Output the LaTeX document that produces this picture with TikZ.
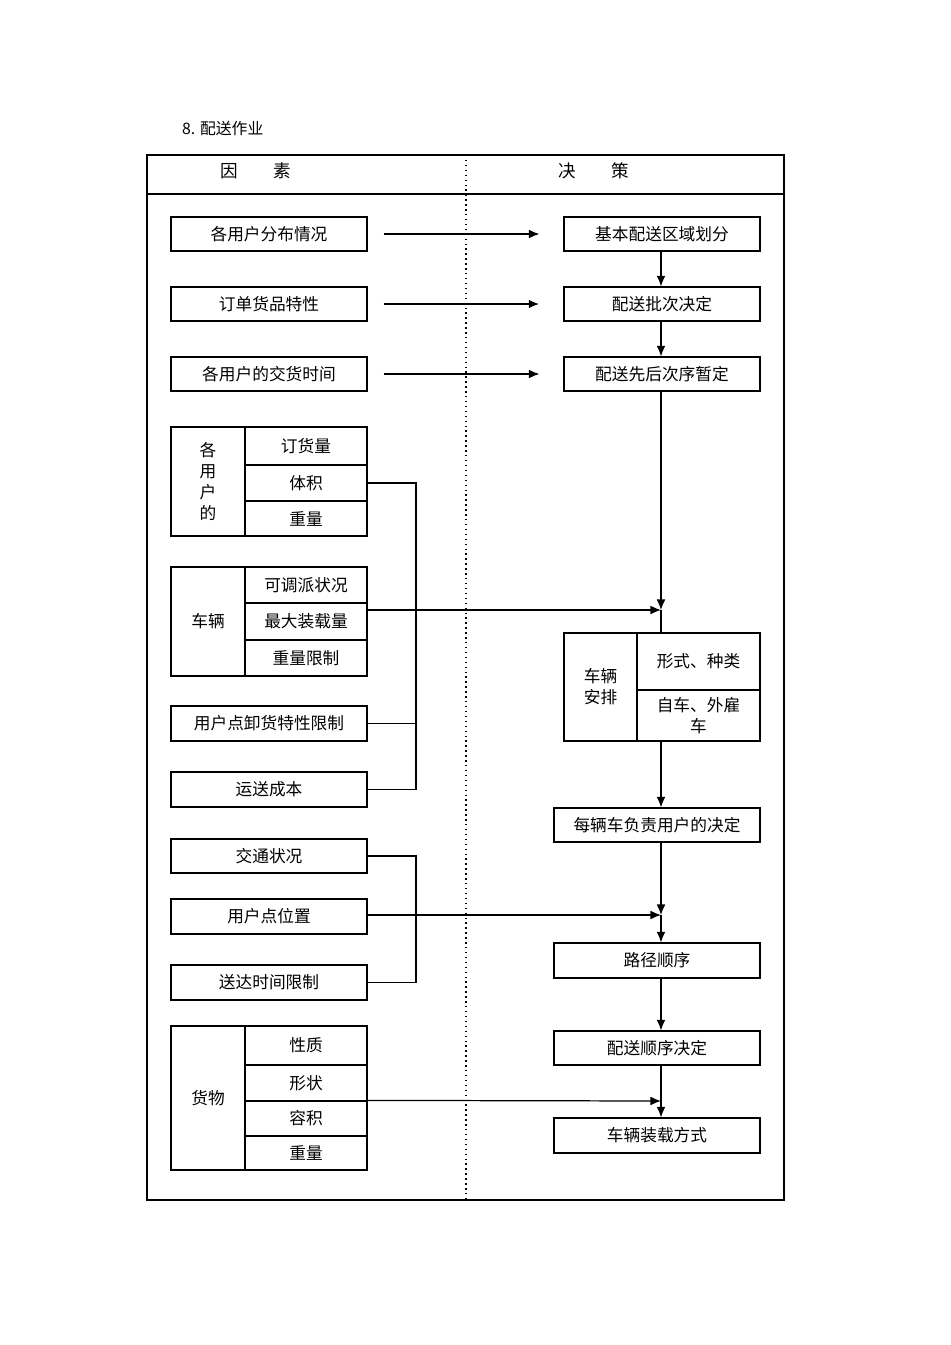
\documentclass[tikz,border=0pt]{standalone}
\usepackage{fontspec}
\setmainfont{Noto Sans CJK SC}
\usetikzlibrary{arrows.meta}
\tikzset{
  box/.style={draw, line width=0.7pt, inner sep=1pt, font=\fontsize{9.5pt}{12pt}\selectfont},
  cell/.style={box, minimum width=2.44cm, minimum height=#1*0.02cm},
  flow/.style={line width=0.7pt, -{Latex[length=6pt,width=5pt]}},
  link/.style={line width=0.6pt}
}
\begin{document}
\begin{tikzpicture}[x=0.02cm,y=-0.02cm]
  \useasboundingbox (0,0) rectangle (950,1345);
  % frame
  \node[anchor=west, font=\fontsize{9pt}{11pt}\selectfont] (title) at (176,128) {8. 配送作业};
  \draw[line width=0.7pt] (147,155) rectangle (784,1200);
  \draw[line width=1.2pt] (147,194) -- (784,194);
  \draw[dotted, line width=0.8pt] (466,155) -- (466,1200);
  \node[font=\fontsize{10pt}{12pt}\selectfont] (hfac) at (256,171) {因\hspace{2em}素};
  \node[font=\fontsize{10pt}{12pt}\selectfont] (hdec) at (594,171) {决\hspace{2em}策};

  % factors
  \node[box, minimum width=3.92cm, minimum height=0.68cm] (f1) at (269,234) {各用户分布情况};
  \node[box, minimum width=3.92cm, minimum height=0.68cm] (f2) at (269,304) {订单货品特性};
  \node[box, minimum width=3.92cm, minimum height=0.68cm] (f3) at (269,374) {各用户的交货时间};

  \node[box, minimum width=1.48cm, minimum height=2.18cm, align=center] (g1) at (208,481.5) {各\\用\\户\\的};
  \node[cell=38] (g1a) at (306,446) {订货量};
  \node[cell=36] (g1b) at (306,483) {体积};
  \node[cell=35] (g1c) at (306,518.5) {重量};

  \node[box, minimum width=1.48cm, minimum height=2.18cm] (g2) at (208,621.5) {车辆};
  \node[cell=36] (g2a) at (306,585) {可调派状况};
  \node[cell=37] (g2b) at (306,621.5) {最大装载量};
  \node[cell=36] (g2c) at (306,658) {重量限制};

  \node[box, minimum width=3.92cm, minimum height=0.70cm] (f4) at (269,723.5) {用户点卸货特性限制};
  \node[box, minimum width=3.92cm, minimum height=0.70cm] (f5) at (269,789.5) {运送成本};
  \node[box, minimum width=3.92cm, minimum height=0.68cm] (f6) at (269,856) {交通状况};
  \node[box, minimum width=3.92cm, minimum height=0.70cm] (f7) at (269,916.5) {用户点位置};
  \node[box, minimum width=3.92cm, minimum height=0.70cm] (f8) at (269,982.5) {送达时间限制};

  \node[box, minimum width=1.48cm, minimum height=2.88cm] (g3) at (208,1098) {货物};
  \node[cell=39] (g3a) at (306,1045.5) {性质};
  \node[cell=36] (g3b) at (306,1083) {形状};
  \node[cell=35] (g3c) at (306,1118.5) {容积};
  \node[cell=34] (g3d) at (306,1153) {重量};

  % decisions
  \node[box, minimum width=3.92cm, minimum height=0.68cm] (d1) at (662,234) {基本配送区域划分};
  \node[box, minimum width=3.92cm, minimum height=0.68cm] (d2) at (662,304) {配送批次决定};
  \node[box, minimum width=3.92cm, minimum height=0.68cm] (d3) at (662,374) {配送先后次序暂定};
  \node[box, minimum width=1.46cm, minimum height=2.16cm, align=center] (d4) at (600.5,687) {车辆\\安排};
  \node[box, minimum width=2.46cm, minimum height=1.14cm] (d4a) at (698.5,661.5) {形式、种类};
  \node[box, minimum width=2.46cm, minimum height=1.02cm, align=center] (d4b) at (698.5,715.5) {自车、外雇\\车};
  \node[box, minimum width=4.12cm, minimum height=0.68cm] (d5) at (657,825) {每辆车负责用户的决定};
  \node[box, minimum width=4.12cm, minimum height=0.70cm] (d6) at (657,960.5) {路径顺序};
  \node[box, minimum width=4.12cm, minimum height=0.68cm] (d7) at (657,1048) {配送顺序决定};
  \node[box, minimum width=4.12cm, minimum height=0.70cm] (d8) at (657,1135.5) {车辆装载方式};

  % merge points
  \coordinate (m1) at (661,610);
  \coordinate (m2) at (661,915);
  \coordinate (m3) at (661,1101);

  % connectors
  \draw[flow] ([xshift=0.32cm]f1.east) -- ([xshift=-0.48cm]d1.west);
  \draw[flow, line width=1.3pt] ([xshift=0.32cm]f2.east) -- ([xshift=-0.48cm]d2.west);
  \draw[flow] ([xshift=0.32cm]f3.east) -- ([xshift=-0.48cm]d3.west);
  \draw[flow] (d1.south -| m1) -- (d2.north -| m1);
  \draw[flow] (d2.south -| m1) -- (d3.north -| m1);
  \draw[flow] (d3.south -| m1) -- (m1);
  \draw[link] (m1) -- (d4a.north -| m1);
  \draw[link] (g1b.east) -| (416,0 |- f5.east) -- (f5.east);
  \draw[link] (f4.east) -- (f4.east -| 416,0);
  \draw[flow] (g2b.east |- m1) -- (m1);
  \draw[flow] (d4b.south -| m1) -- (d5.north -| m1);
  \draw[flow] (d5.south -| m1) -- (m2);
  \draw[flow] (m2) -- (d6.north -| m2);
  \draw[link] (f6.east) -| (416,0 |- f8.east) -- (f8.east);
  \draw[flow] (f7.east |- m2) -- (m2);
  \draw[flow] (d6.south -| m2) -- (d7.north -| m2);
  \draw[link] (d7.south -| m3) -- (m3);
  \draw[flow] (g3c.north east) -- (m3);
  \draw[flow] (m3) -- (d8.north -| m3);
\end{tikzpicture}
\end{document}
